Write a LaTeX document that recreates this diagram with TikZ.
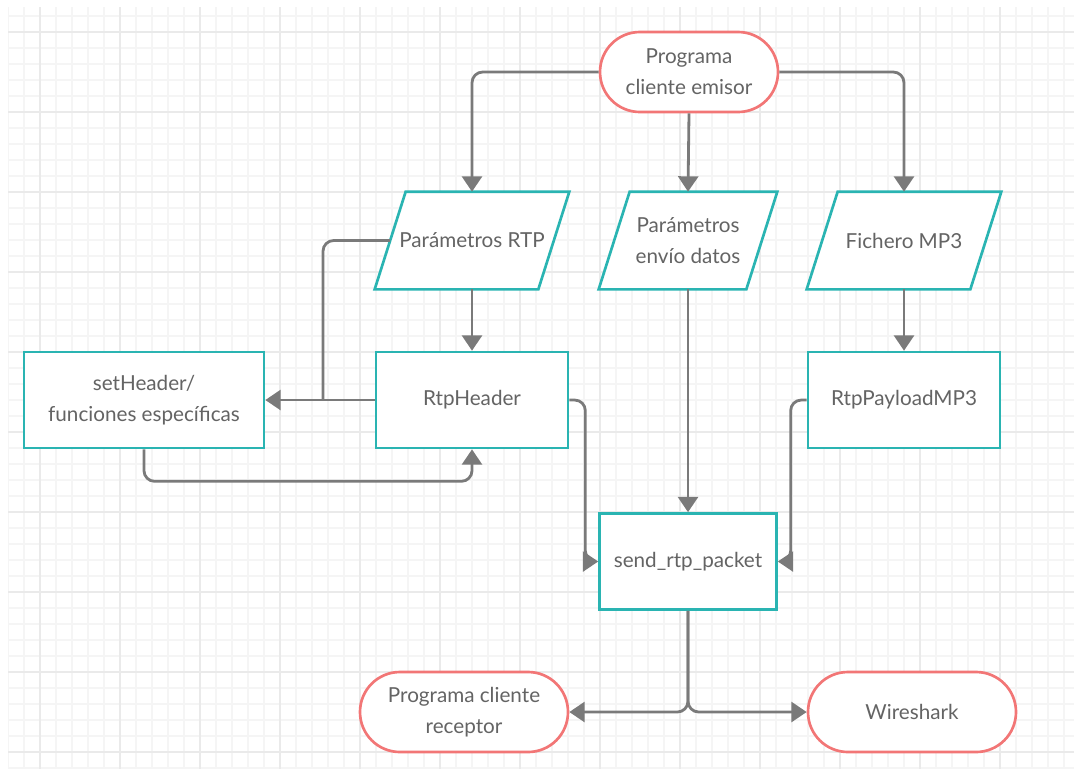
\documentclass[tikz,border=0pt]{standalone}
\usepackage{fontspec}
\setmainfont{Lato}
\usetikzlibrary{arrows.meta,backgrounds}

\definecolor{tealline}{RGB}{42,180,178}
\definecolor{pinkline}{RGB}{242,118,118}
\definecolor{arrowgray}{RGB}{122,122,122}
\definecolor{textgray}{RGB}{100,100,100}
\definecolor{gridminor}{RGB}{245,245,245}
\definecolor{gridmajor}{RGB}{234,234,234}

\tikzset{
  base/.style={fill=white, line width=2pt, inner sep=0pt, align=center,
    text=textgray, font=\fontsize{15.5}{23}\selectfont},
  term/.style={base, draw=pinkline, rectangle, rounded corners=29.9pt,
    minimum height=60pt},
  io/.style={base, fill=none, rectangle, minimum width=144pt, minimum height=71.25pt},
  ioshape/.style={draw=tealline, fill=white, line width=2pt, line join=miter},
  proc/.style={base, draw=tealline, rectangle, minimum height=72pt},
  flow/.style={draw=arrowgray, line width=2.1pt, rounded corners=8pt,
    -{Triangle[length=11.5pt,width=15pt]}},
  flowline/.style={draw=arrowgray, line width=2.1pt, rounded corners=8pt}
}

\begin{document}
\begin{tikzpicture}[x=0.75pt,y=-0.75pt]
\useasboundingbox (0,0) rectangle (1074,769);
% grid paper
\begin{pgfonlayer}{background}
\begin{scope}
\clip (8,7) rectangle (1074,769);
\foreach \x in {8,24,...,1072} \draw[gridminor, line width=0.8pt] (\x,0) -- (\x,769);
\foreach \y in {0,16,...,768} \draw[gridminor, line width=0.8pt] (0,\y) -- (1074,\y);
\foreach \x in {40,120,...,1072} \draw[gridmajor, line width=1.5pt] (\x,0) -- (\x,769);
\foreach \y in {32,112,...,768} \draw[gridmajor, line width=1.5pt] (0,\y) -- (1074,\y);
\end{scope}
\end{pgfonlayer}

% nodes
\node[term, minimum width=133.5pt] (emisor) at (689,72) {Programa\\cliente emisor};
\node[io] (prtp) at (472,240.5) {Parámetros RTP};
\node[io, minimum width=132pt] (penvio) at (688,240.5) {Parámetros\\envío datos};
\node[io] (fichero) at (904,240.5) {Fichero MP3};
\node[proc, minimum width=180pt] (setheader) at (144,400) {setHeader/\\funciones específicas};
\node[proc, minimum width=144pt] (rtpheader) at (472,400) {RtpHeader};
\node[proc, minimum width=144pt] (payload) at (904,400) {RtpPayloadMP3};
\node[proc, minimum width=132.75pt] (send) at (688,561.5) {send\_rtp\_packet};
\node[term, minimum width=156pt] (receptor) at (464,712) {Programa cliente\\receptor};
\node[term, minimum width=156pt] (wireshark) at (912,712) {Wireshark};
\coordinate (junc) at (323,400);

% parallelograms behind the io texts
\begin{pgfonlayer}{background}
\foreach \n in {prtp,penvio,fichero}
  \draw[ioshape] (\n.south west) -- ([xshift=-23.25pt]\n.south east)
    -- (\n.north east) -- ([xshift=23.25pt]\n.north west) -- cycle;
\end{pgfonlayer}

% connectors
\draw[flow] (emisor.west) -| (prtp.north);
\draw[flow] (emisor.south) -- (penvio.north);
\draw[flow] (emisor.east) -| (fichero.north);
\draw[flowline] ([xshift=11.6pt]prtp.west) -| (junc);
\draw[flow] (prtp.south) -- (rtpheader.north);
\draw[flow] (fichero.south) -- (payload.north);
\draw[flow] (rtpheader.west) -- (setheader.east);
\draw[flow] (setheader.south) -- ++(0,32) -| (rtpheader.south);
\draw[flow] (rtpheader.east) -- ++(16,0) |- (send.west);
\draw[flow] (payload.west) -- ++(-16,0) |- (send.east);
\draw[flow] (penvio.south) -- (send.north);
\draw[flow] (send.south) |- (receptor.east);
\draw[flow] (send.south) |- (wireshark.west);
\end{tikzpicture}
\end{document}
